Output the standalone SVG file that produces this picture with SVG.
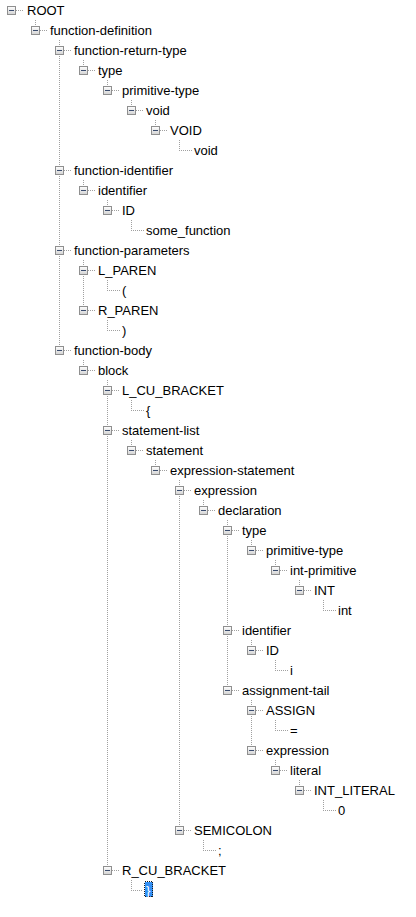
<svg xmlns="http://www.w3.org/2000/svg" xmlns:xlink="http://www.w3.org/1999/xlink" width="416" height="917" viewBox="0 0 416 917">
<style>
.t{font-family:"Liberation Sans",Arial,sans-serif;font-size:13px;fill:#000}
.ln{fill:none;stroke:#a0a0a0;stroke-width:1;stroke-dasharray:1 1;shape-rendering:crispEdges}
</style>
<defs>
<linearGradient id="bg" x1="0" y1="0" x2="0" y2="1"><stop offset="0" stop-color="#ffffff"/><stop offset="1" stop-color="#d2d2d2"/></linearGradient>
<g id="btn"><rect x="-3.5" y="-3.5" width="8" height="8" rx="1.2" fill="url(#bg)" stroke="#8f8f8f" shape-rendering="crispEdges"/><path d="M-2 0.5H3" stroke="#3a4c6e" shape-rendering="crispEdges"/></g>
</defs>
<rect width="416" height="917" fill="#ffffff"/>
<g id="connectors">
<path class="ln" d="M16 10.5H23M40 30.5H47M64 50.5H71M88 70.5H95M112 90.5H119M136 110.5H143M160 130.5H167M64 170.5H71M88 190.5H95M112 210.5H119M64 250.5H71M88 270.5H95M88 310.5H95M64 350.5H71M88 370.5H95M112 390.5H119M112 430.5H119M136 450.5H143M160 470.5H167M184 490.5H191M208 510.5H215M232 530.5H239M256 550.5H263M280 570.5H287M304 590.5H311M232 630.5H239M256 650.5H263M232 690.5H239M256 710.5H263M256 750.5H263M280 770.5H287M304 790.5H311M184 830.5H191M112 870.5H119"/>
<path class="ln" d="M179 150.5H192M131 230.5H144M107 290.5H120M107 330.5H120M131 410.5H144M323 610.5H336M275 670.5H288M275 730.5H288M323 810.5H336M203 850.5H216M131 890.5H143"/>
<path class="ln" d="M35.5 20V30M59.5 40V350M83.5 60V70M107.5 80V90M131.5 100V110M155.5 120V130M179.5 140V150M83.5 180V190M107.5 200V210M131.5 220V230M83.5 260V310M107.5 280V290M107.5 320V330M83.5 360V370M107.5 380V870M131.5 400V410M131.5 440V450M155.5 460V470M179.5 480V830M203.5 500V510M227.5 520V690M251.5 540V550M275.5 560V570M299.5 580V590M323.5 600V610M251.5 640V650M275.5 660V670M251.5 700V750M275.5 720V730M275.5 760V770M299.5 780V790M323.5 800V810M203.5 840V850M131.5 880V890"/>
</g>
<g id="n1"><use href="#btn" x="11" y="10"/><text class="t" x="27" y="15">ROOT</text></g>
<g id="n2"><use href="#btn" x="35" y="30"/><text class="t" x="50" y="35">function-definition</text></g>
<g id="n3"><use href="#btn" x="59" y="50"/><text class="t" x="74" y="55">function-return-type</text></g>
<g id="n4"><use href="#btn" x="83" y="70"/><text class="t" x="98" y="75">type</text></g>
<g id="n5"><use href="#btn" x="107" y="90"/><text class="t" x="122" y="95">primitive-type</text></g>
<g id="n6"><use href="#btn" x="131" y="110"/><text class="t" x="146" y="115">void</text></g>
<g id="n7"><use href="#btn" x="155" y="130"/><text class="t" x="170" y="135">VOID</text></g>
<g id="n8"><text class="t" x="194" y="155">void</text></g>
<g id="n9"><use href="#btn" x="59" y="170"/><text class="t" x="74" y="175">function-identifier</text></g>
<g id="n10"><use href="#btn" x="83" y="190"/><text class="t" x="98" y="195">identifier</text></g>
<g id="n11"><use href="#btn" x="107" y="210"/><text class="t" x="122" y="215">ID</text></g>
<g id="n12"><text class="t" x="146" y="235">some_function</text></g>
<g id="n13"><use href="#btn" x="59" y="250"/><text class="t" x="74" y="255">function-parameters</text></g>
<g id="n14"><use href="#btn" x="83" y="270"/><text class="t" x="98" y="275">L_PAREN</text></g>
<g id="n15"><text class="t" x="122" y="295">(</text></g>
<g id="n16"><use href="#btn" x="83" y="310"/><text class="t" x="98" y="315">R_PAREN</text></g>
<g id="n17"><text class="t" x="122" y="335">)</text></g>
<g id="n18"><use href="#btn" x="59" y="350"/><text class="t" x="74" y="355">function-body</text></g>
<g id="n19"><use href="#btn" x="83" y="370"/><text class="t" x="98" y="375">block</text></g>
<g id="n20"><use href="#btn" x="107" y="390"/><text class="t" x="122" y="395">L_CU_BRACKET</text></g>
<g id="n21"><text class="t" x="146" y="415">{</text></g>
<g id="n22"><use href="#btn" x="107" y="430"/><text class="t" x="122" y="435">statement-list</text></g>
<g id="n23"><use href="#btn" x="131" y="450"/><text class="t" x="146" y="455">statement</text></g>
<g id="n24"><use href="#btn" x="155" y="470"/><text class="t" x="170" y="475">expression-statement</text></g>
<g id="n25"><use href="#btn" x="179" y="490"/><text class="t" x="194" y="495">expression</text></g>
<g id="n26"><use href="#btn" x="203" y="510"/><text class="t" x="218" y="515">declaration</text></g>
<g id="n27"><use href="#btn" x="227" y="530"/><text class="t" x="242" y="535">type</text></g>
<g id="n28"><use href="#btn" x="251" y="550"/><text class="t" x="266" y="555">primitive-type</text></g>
<g id="n29"><use href="#btn" x="275" y="570"/><text class="t" x="290" y="575">int-primitive</text></g>
<g id="n30"><use href="#btn" x="299" y="590"/><text class="t" x="314" y="595">INT</text></g>
<g id="n31"><text class="t" x="338" y="615">int</text></g>
<g id="n32"><use href="#btn" x="227" y="630"/><text class="t" x="242" y="635">identifier</text></g>
<g id="n33"><use href="#btn" x="251" y="650"/><text class="t" x="266" y="655">ID</text></g>
<g id="n34"><text class="t" x="290" y="675">i</text></g>
<g id="n35"><use href="#btn" x="227" y="690"/><text class="t" x="242" y="695">assignment-tail</text></g>
<g id="n36"><use href="#btn" x="251" y="710"/><text class="t" x="266" y="715">ASSIGN</text></g>
<g id="n37"><text class="t" x="290" y="735">=</text></g>
<g id="n38"><use href="#btn" x="251" y="750"/><text class="t" x="266" y="755">expression</text></g>
<g id="n39"><use href="#btn" x="275" y="770"/><text class="t" x="290" y="775">literal</text></g>
<g id="n40"><use href="#btn" x="299" y="790"/><text class="t" x="314" y="795">INT_LITERAL</text></g>
<g id="n41"><text class="t" x="338" y="815">0</text></g>
<g id="n42"><use href="#btn" x="179" y="830"/><text class="t" x="194" y="835">SEMICOLON</text></g>
<g id="n43"><text class="t" x="218" y="855">;</text></g>
<g id="n44"><use href="#btn" x="107" y="870"/><text class="t" x="122" y="875">R_CU_BRACKET</text></g>
<g id="n45"><rect x="144.5" y="881.5" width="8" height="15" fill="#3390f5" stroke="#1a1a1a" stroke-dasharray="1 1" shape-rendering="crispEdges"/><text class="t" x="146" y="895" style="fill:#ffffff">}</text></g>
</svg>
